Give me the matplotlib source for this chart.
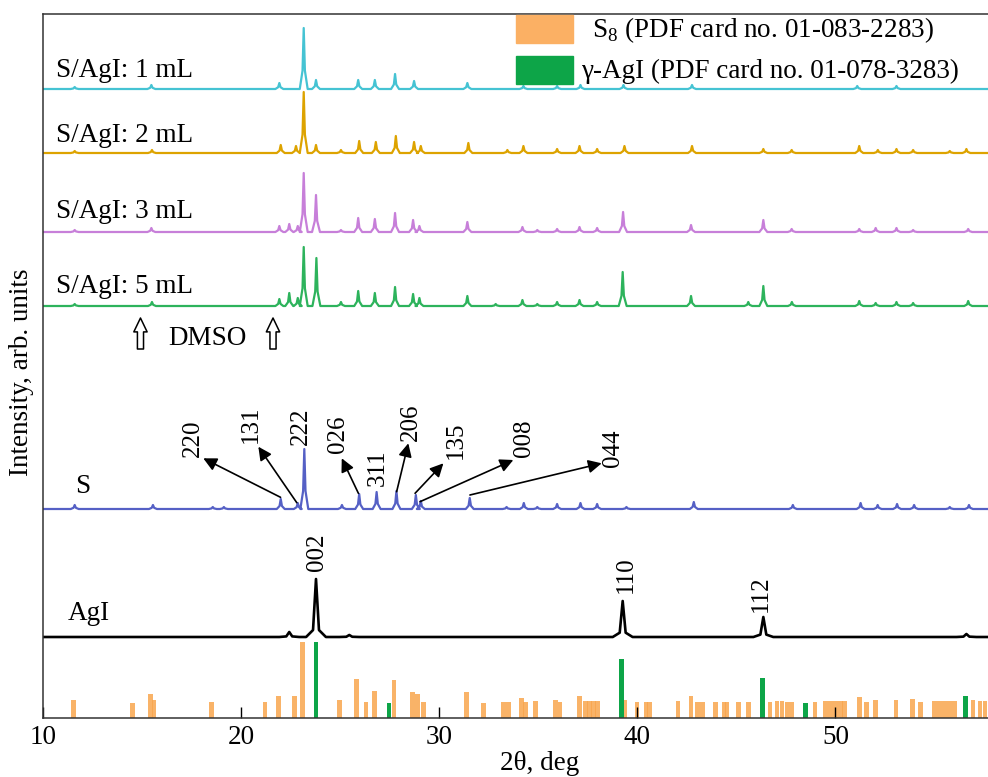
import matplotlib
matplotlib.use("Agg")
import matplotlib.pyplot as plt
from matplotlib.patches import Rectangle

plt.rcParams['font.family'] = ['Liberation Serif', 'DejaVu Serif']
plt.rcParams['mathtext.fontset'] = 'custom'
plt.rcParams['mathtext.rm'] = 'Liberation Serif'

# peak positions (2theta, deg) and heights (arb. units)
pk_1ml = [11.6, 15.47, 21.93, 23.16, 23.78, 25.91, 26.75, 27.77, 28.73, 31.42,
          34.25, 35.95, 37.13, 39.3, 42.76, 51.1, 53.08]
h_1ml = [2, 4, 6, 61, 9, 9, 9, 15, 8, 6, 3, 3, 4, 4, 4, 3, 3]

pk_2ml = [11.6, 15.5, 22.0, 22.77, 23.16, 23.78, 25.04, 25.96, 26.8, 27.81, 28.73,
          29.07, 31.47, 33.44, 34.25, 35.95, 37.08, 37.97, 39.35, 42.76, 46.36,
          47.79, 51.2, 52.14, 53.08, 53.92, 55.77, 56.61]
h_2ml = [2, 3, 8, 7, 61, 8, 3, 12, 11, 17, 11, 7, 10, 3, 7, 4, 7, 4, 7, 7, 4,
         3, 7, 3, 4, 3, 2, 4]

pk_3ml = [11.6, 15.47, 21.93, 22.43, 22.86, 23.16, 23.78, 25.04, 25.91, 26.75,
          27.77, 28.68, 29.0, 31.42, 34.2, 34.95, 35.95, 37.08, 37.97, 39.28,
          42.71, 46.36, 47.79, 51.2, 52.03, 53.08, 53.92, 56.7]
h_3ml = [2, 4, 6, 8, 6, 59, 37, 2, 14, 13, 19, 12, 6, 10, 5, 2, 3, 5, 4, 20,
         7, 12, 3, 3, 4, 4, 2, 3]

pk_5ml = [11.6, 15.5, 21.93, 22.43, 22.86, 23.16, 23.8, 25.04, 25.91, 26.75,
          27.77, 28.68, 29.0, 31.42, 32.85, 34.2, 34.95, 35.95, 37.08, 37.97,
          39.26, 42.71, 45.6, 46.36, 47.8, 51.2, 52.03, 53.08, 53.92, 56.7]
h_5ml = [2, 4, 7, 13, 8, 59, 48, 4, 15, 13, 19, 12, 8, 10, 2, 6, 2, 4, 6, 4,
         34, 10, 4, 20, 4, 5, 3, 4, 3, 5]

pk_s = [11.6, 15.55, 18.57, 19.13, 22.0, 22.86, 23.19, 25.09, 25.96, 26.84,
        27.84, 28.82, 29.07, 31.54, 33.4, 34.27, 34.95, 35.95, 37.13, 37.97,
        39.45, 42.85, 47.85, 51.27, 52.13, 53.11, 53.97, 55.77, 56.74]
h_s = [4, 4, 2, 2, 10, 6, 60, 4, 15, 17, 18, 14, 8, 11, 2, 6, 2, 5, 6, 5,
       2, 7, 4, 6, 4, 5, 4, 2, 4]

pk_agi = [22.43, 23.78, 25.46, 39.26, 46.36, 56.61]
h_agi = [5, 58, 2, 36, 20, 3]

# reference cards (stick patterns)
s8_pos = [11.55, 14.51, 15.43, 15.6, 18.49, 21.21, 21.9, 22.69, 23.11, 24.95,
          25.84, 26.3, 26.72, 27.72, 28.65, 28.9, 29.2, 31.38, 32.22, 33.26,
          33.51, 34.14, 34.36, 34.86, 35.87, 36.09, 37.08, 37.4, 37.6, 37.8,
          37.97, 39.35, 39.98, 40.44, 40.6, 42.05, 42.71, 43.04, 43.29, 43.93,
          44.38, 44.52, 45.1, 45.6, 46.7, 47.05, 47.3, 47.55, 47.8, 48.97,
          49.5, 49.75, 50.0, 50.25, 50.45, 51.2, 51.57, 52.04, 53.05, 53.87,
          54.29, 55.0, 55.25, 55.5, 55.75, 56.0, 56.94, 57.3, 57.55]
s8_int = [18, 15, 24, 18, 16, 16, 22, 22, 76, 18, 39, 16, 27, 38, 26, 24, 16,
          26, 15, 16, 16, 20, 16, 17, 18, 16, 22, 17, 17, 17, 17, 18, 16, 16,
          16, 17, 22, 16, 16, 16, 16, 16, 16, 16, 16, 17, 17, 16, 16, 16, 17,
          17, 17, 17, 17, 21, 16, 18, 18, 19, 16, 17, 17, 17, 17, 17, 18, 17, 17]
agi_pos = [23.78, 27.47, 39.19, 46.31, 48.5, 56.57]
agi_int = [76, 15, 59, 40, 15, 22]

traces = [
    ("S/AgI: 1 mL", pk_1ml, h_1ml, 629, '#45C3D3', 641),
    ("S/AgI: 2 mL", pk_2ml, h_2ml, 565, '#DDA300', 576),
    ("S/AgI: 3 mL", pk_3ml, h_3ml, 486, '#C77FD9', 500),
    ("S/AgI: 5 mL", pk_5ml, h_5ml, 412, '#2DB35C', 425),
    ("S", pk_s, h_s, 209, '#5560C5', 225),
    ("AgI", pk_agi, h_agi, 81, 'black', 98),
]

X0, X1 = 10, 57.7


def spikes(pos, hts, base, hw, sh):
    xs, ys = [X0], [base]
    for p, h in sorted(zip(pos, hts)):
        xs += [p - hw, p - hw * 0.3, p, p + hw * 0.3, p + hw]
        ys += [base, base + h * sh, base + h, base + h * sh, base]
    xs.append(X1)
    ys.append(base)
    return xs, ys


fig = plt.figure(figsize=(9.88, 7.77), dpi=100)
ax = fig.add_axes([43 / 988, 59 / 777, 945 / 988, 704 / 777])

for name, pos, hts, base, col, ly in traces:
    if name == "AgI":
        xs, ys = spikes(pos, hts, base, 0.5, 0.12)
        ax.plot(xs, ys, color=col, lw=1.9)
        ax.text(11.26, ly, name, fontsize=19.5, va='baseline')
    else:
        xs, ys = spikes(pos, hts, base, 0.2, 0.3)
        ax.plot(xs, ys, color=col, lw=1.6)
        x_lab = 11.6 if name == "S" else 10.64
        ax.text(x_lab, ly, name, fontsize=19.5, va='baseline')

ax.bar(s8_pos, s8_int, width=0.24, color='#F8A64D', alpha=0.85, linewidth=0)
ax.bar(agi_pos, agi_int, width=0.24, color='#0DA548', linewidth=0)

# hkl labels for S
lab_arrow = [("220", (21.99, 220.7), (18.09, 259.7), (17.55, 279.5)),
             ("131", (22.81, 215.3), (20.87, 271.3), (20.5, 293.5)),
             ("026", (25.92, 224.7), (25.08, 259.7), (24.87, 284)),
             ("206", (27.85, 226.3), (28.44, 274.7), (28.58, 295.5)),
             ("135", (28.78, 224.7), (30.21, 254.7), (30.85, 278)),
             ("008", (29.03, 216.3), (33.74, 258), (34.28, 279.5)),
             ("044", (31.55, 223), (38.2, 254.7), (38.77, 270))]
for t, p0, p1, tp in lab_arrow:
    ax.annotate('', xy=p1, xytext=p0,
                arrowprops=dict(arrowstyle='-|>', color='black', lw=1.2,
                                mutation_scale=20, shrinkA=0, shrinkB=0))
    ax.text(tp[0], tp[1], t, rotation=90, fontsize=18, ha='center', va='center')

for t, x, y in [("222", 23.02, 291.5), ("311", 26.88, 250),
                ("002", 23.83, 165.5), ("110", 39.43, 143), ("112", 46.24, 124)]:
    ax.text(x, y, t, rotation=90, fontsize=18, ha='center', va='center')

# DMSO markers
for xa in [14.92, 21.61]:
    ax.annotate('', xy=(xa, 400), xytext=(xa, 369),
                arrowprops=dict(arrowstyle='simple,head_length=0.5,head_width=0.48,tail_width=0.22',
                                fc='white', ec='black', lw=1.1, mutation_scale=20,
                                shrinkA=0, shrinkB=0))
ax.text(18.3, 373, "DMSO", fontsize=19.5, ha='center', va='baseline')

ax.set_xlim(X0, X1)
ax.set_ylim(0, 704)
ax.set_yticks([])
ax.set_xticks([10, 20, 30, 40, 50])
ax.tick_params(axis='x', direction='in', length=8, width=1.0, labelsize=19.5, pad=5)
ax.spines['right'].set_visible(False)
for s in ['left', 'bottom', 'top']:
    ax.spines[s].set_linewidth(1.1)
    ax.spines[s].set_color('#333333')

fig.text(540 / 988, 1 - 764 / 777, "2θ, deg", fontsize=19.5, ha='center', va='center')
fig.text(22 / 988, 1 - 372 / 777, "Intensity, arb. units", fontsize=19.5,
         rotation=90, ha='center', va='center')

# legend drawn by hand
fig.patches.append(Rectangle((516 / 988, 1 - 43 / 777), 57 / 988, 28 / 777,
                             transform=fig.transFigure, color='#FBB064'))
fig.patches.append(Rectangle((516 / 988, 1 - 84 / 777), 57 / 988, 28 / 777,
                             transform=fig.transFigure, color='#0DA548'))
fig.text(592 / 988, 1 - 30 / 777, r"S$_{\mathrm{8}}$ (PDF card no. 01-083-2283)",
         fontsize=19.5, va='center')
fig.text(581 / 988, 1 - 71 / 777, "γ-AgI (PDF card no. 01-078-3283)",
         fontsize=19.5, va='center')

fig.savefig("out.png", dpi=100)
